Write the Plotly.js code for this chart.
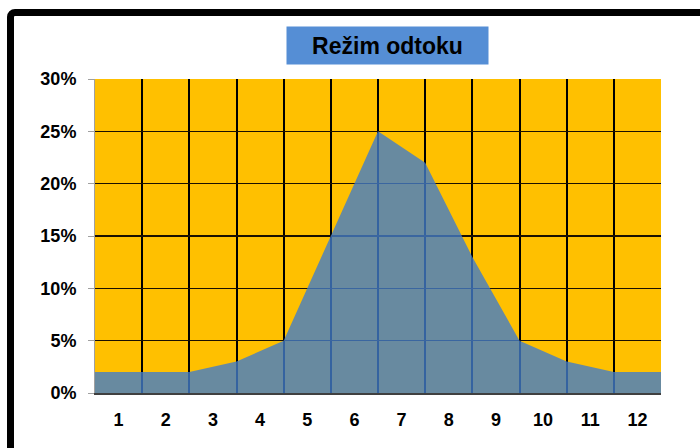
<!DOCTYPE html>
<html>
<head>
<meta charset="utf-8">
<script src="https://cdn.plot.ly/plotly-3.0.1.min.js"></script>
<style>
  html, body { margin: 0; padding: 0; background: #fff; overflow: hidden; }
  #frame { position: absolute; left: 7px; top: 9px; width: 730px; height: 470px;
           border: 7px solid #000; border-radius: 8px; box-sizing: border-box; }
  #chart { position: absolute; left: 0; top: 0; width: 700px; height: 448px; }
</style>
</head>
<body>
<div id="frame"></div>
<div id="chart"></div>
<script>
// month labels, centred in the columns
const months = ['1', '2', '3', '4', '5', '6', '7', '8', '9', '10', '11', '12'];
const monthPos = [0.5, 1.5, 2.5, 3.5, 4.5, 5.5, 6.5, 7.5, 8.5, 9.5, 10.5, 11.5];
// area vertices sit on the column boundaries
const edges = [0, 1, 2, 3, 4, 5, 6, 7, 8, 9, 10, 11, 12];
const share = [2, 2, 2, 3, 5, 15, 25, 22, 13, 5, 3, 2, 2];
const chartTitle = 'Režim odtoku';

const tickFont = { family: 'Liberation Sans, Arial, sans-serif', size: 18, color: '#000', weight: 'bold' };

const area = {
  x: edges,
  y: share,
  type: 'scatter',
  mode: 'lines',
  fill: 'tozeroy',
  fillcolor: 'rgba(66,124,200,0.8)',
  line: { width: 0, color: 'rgba(66,124,200,0.8)' },
  hoverinfo: 'skip',
  showlegend: false
};

const layout = {
  width: 700,
  height: 448,
  margin: { l: 95, r: 39, t: 79, b: 55 },
  paper_bgcolor: 'rgba(0,0,0,0)',
  plot_bgcolor: '#FFC000',
  showlegend: false,
  xaxis: {
    range: [0, 12],
    tickmode: 'array',
    tickvals: monthPos,
    ticktext: months,
    showgrid: false,
    ticks: '',
    tickfont: tickFont,
    ticklabelstandoff: 10,
    showline: true,
    linecolor: '#404040',
    linewidth: 1.5,
    zeroline: false,
    fixedrange: true,
    minor: { tickmode: 'linear', tick0: 0, dtick: 1, showgrid: true, gridcolor: '#000', gridwidth: 2, ticks: '' }
  },
  yaxis: {
    range: [0, 30],
    dtick: 5,
    ticksuffix: '%',
    tickfont: tickFont,
    showgrid: true,
    gridcolor: '#1a1000',
    gridwidth: 1.5,
    ticks: 'outside',
    ticklen: 6,
    tickcolor: '#a0a0a0',
    ticklabelstandoff: 8,
    showline: true,
    linecolor: '#a0a0a0',
    linewidth: 1,
    zeroline: false,
    fixedrange: true
  },
  annotations: [{
    text: '<b>' + chartTitle + '</b>',
    xref: 'paper', yref: 'paper',
    x: 0.5168, y: 1.1067,
    xanchor: 'center', yanchor: 'middle',
    showarrow: false,
    width: 201, height: 37,
    borderpad: 0,
    bgcolor: '#558ED5',
    font: { family: 'Liberation Sans, Arial, sans-serif', size: 23, color: '#000' }
  }]
};

Plotly.newPlot('chart', [area], layout, { displayModeBar: false, staticPlot: true });
</script>
</body>
</html>
